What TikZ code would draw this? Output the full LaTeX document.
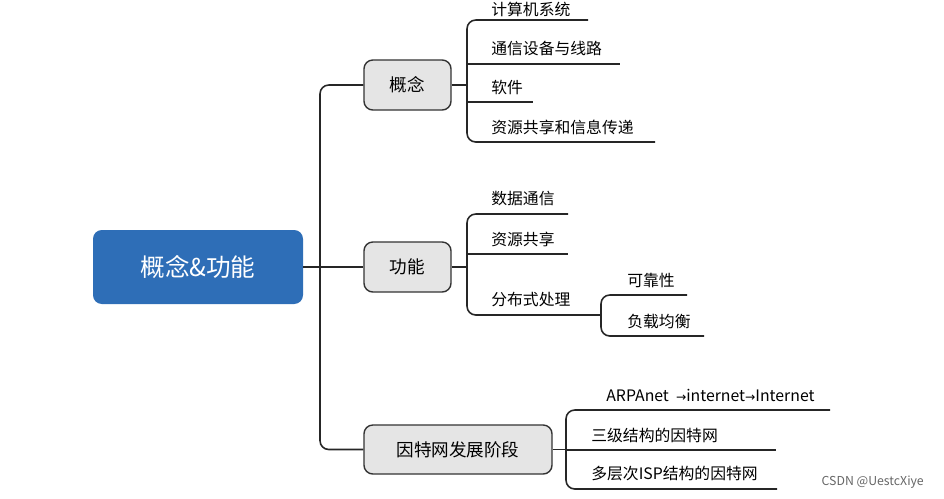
\documentclass[tikz,border=0pt]{standalone}
\usepackage{fontspec}
\setmainfont{Noto Sans CJK SC}
\begin{document}
\begin{tikzpicture}[x=0.02cm,y=-0.02cm,
  ln/.style={draw=black!85,line width=0.9pt,rounded corners=5pt},
  br/.style={draw=black!80,fill=black!10,rounded corners=5pt,line width=0.8pt,font=\fontsize{10}{12}\selectfont,inner sep=0pt},
  lf/.style={anchor=west,font=\fontsize{9}{11}\selectfont,inner sep=0pt}]
\useasboundingbox (0,0) rectangle (944,498);
\node[fill=white] at (60,18) {};
\node[draw=none,fill={rgb,255:red,46;green,110;blue,183},rounded corners=5pt,minimum width=210*0.02cm,minimum height=74*0.02cm,text=white,font=\fontsize{14}{16}\selectfont] (root) at (198,267) {概念\&功能};
\node[br,minimum width=87*0.02cm,minimum height=50*0.02cm] (c) at (407.5,85) {概念};
\node[br,minimum width=87*0.02cm,minimum height=50*0.02cm] (f) at (407.5,267) {功能};
\node[br,minimum width=188*0.02cm,minimum height=49*0.02cm] (d) at (458,449.5) {因特网发展阶段};
% trunk
\draw[ln] (root.east) -- (320,267);
\draw[ln] (c.west) -- (320,85) -- (320,449.5) -- (d.west);
\draw[ln] (320,267) -- (f.west);
% concept leaves
\node[lf] (c1) at (491,9) {计算机系统};
\node[lf] (c2) at (491,48) {通信设备与线路};
\node[lf] (c3) at (491,87) {软件};
\node[lf] (c4) at (491,127) {资源共享和信息传递};
\draw[ln] (c.east) -- (467,85);
\draw[ln] (588,20) -- (467,20) -- (467,142) -- (655,142);
\draw[ln] (467,64) -- (620,64);
\draw[ln] (467,102) -- (533,102);
% function leaves
\node[lf] (f1) at (491,199) {数据通信};
\node[lf] (f2) at (491,239) {资源共享};
\node[lf] (f3) at (491,299) {分布式处理};
\draw[ln] (f.east) -- (467,267);
\draw[ln] (568,214) -- (467,214) -- (467,315) -- (600,315);
\draw[ln] (467,254) -- (568,254);
\node[lf] (g1) at (627,280) {可靠性};
\node[lf] (g2) at (627,321) {负载均衡};
\draw[ln] (687,295) -- (601,295) -- (601,336) -- (704,336);
% internet leaves
\node[lf] (d1) at (606,395) {ARPAnet ~{\fontspec{DejaVu Sans}\fontsize{7}{9}\selectfont→}internet{\fontspec{DejaVu Sans}\fontsize{7}{9}\selectfont→}Internet};
\node[lf] (d2) at (591,435) {三级结构的因特网};
\node[lf] (d3) at (591,474) {多层次ISP结构的因特网};
\draw[ln] (d.east) -- (566,449.5);
\draw[ln] (830,410) -- (566,410) -- (566,489) -- (777,489);
\draw[ln] (566,450) -- (776,450);
\node[anchor=east,font=\fontsize{7}{9}\selectfont,text=black!60] (wm) at (930,482) {CSDN @UestcXiye};
\end{tikzpicture}
\end{document}
